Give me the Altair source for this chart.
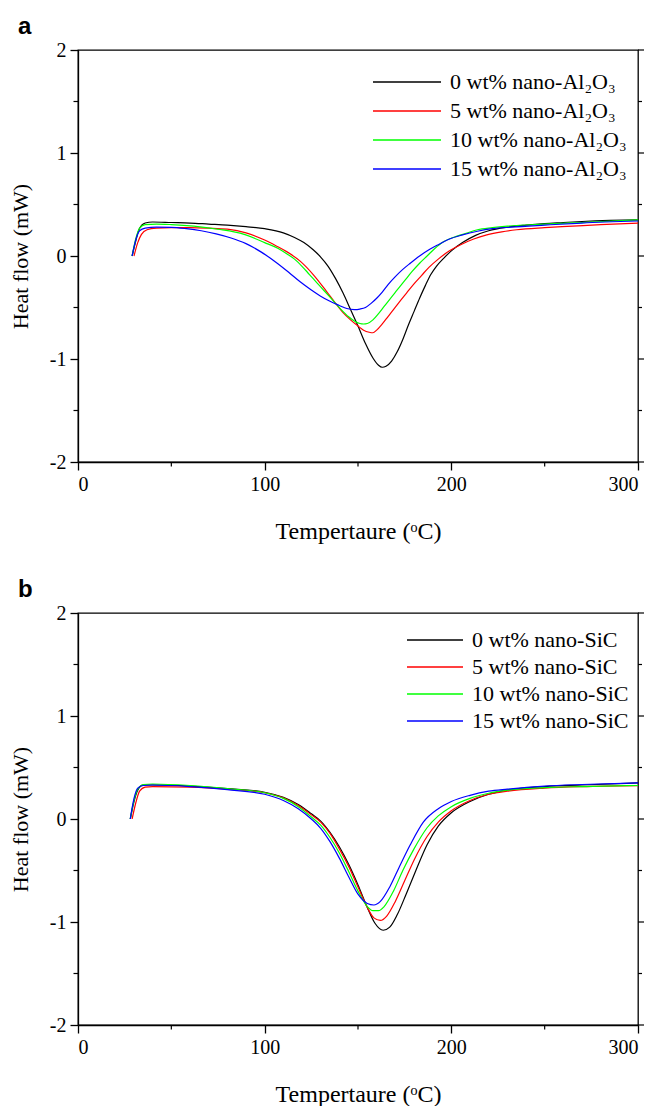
import altair as alt
import pandas as pd

# ---------------- Panel a : nano-Al2O3 ----------------
a_labels = ["0 wt% nano-Al₂O₃", "5 wt% nano-Al₂O₃", "10 wt% nano-Al₂O₃", "15 wt% nano-Al₂O₃"]

a0_T = [29, 31, 33, 36, 40, 50, 60, 70, 80, 90, 100, 110, 116, 121, 126, 130, 134, 138, 142, 146, 150, 154, 158, 161, 163, 165, 168, 171, 174, 177, 180, 183, 186, 189, 192, 196, 200, 206, 213, 220, 230, 240, 250, 260, 270, 285, 300]
a0_H = [0, 0.15, 0.27, 0.32, 0.33, 0.325, 0.32, 0.31, 0.30, 0.285, 0.265, 0.225, 0.18, 0.13, 0.06, -0.01, -0.10, -0.22, -0.36, -0.52, -0.68, -0.85, -0.99, -1.06, -1.08, -1.07, -1.02, -0.93, -0.81, -0.67, -0.54, -0.41, -0.29, -0.18, -0.10, -0.02, 0.05, 0.13, 0.20, 0.245, 0.28, 0.30, 0.315, 0.325, 0.335, 0.345, 0.35]

a5_T = [30, 32, 34, 37, 42, 50, 60, 70, 80, 90, 100, 106, 112, 119, 126, 133, 138, 142, 146, 150, 153, 156, 158, 160, 163, 166, 169, 172, 176, 180, 184, 188, 193, 199, 205, 212, 219, 227, 235, 250, 265, 280, 300]
a5_H = [0, 0.13, 0.21, 0.255, 0.27, 0.275, 0.275, 0.27, 0.26, 0.225, 0.155, 0.10, 0.04, -0.05, -0.18, -0.34, -0.46, -0.55, -0.62, -0.68, -0.72, -0.74, -0.745, -0.72, -0.66, -0.59, -0.52, -0.45, -0.36, -0.27, -0.19, -0.11, -0.03, 0.05, 0.11, 0.165, 0.205, 0.235, 0.255, 0.275, 0.29, 0.305, 0.32]

a10_T = [29, 31, 33, 36, 42, 50, 62, 75, 89, 100, 107, 112, 116, 120, 124, 128, 132, 137, 141, 145, 148, 151, 153, 155, 158, 161, 164, 167, 171, 175, 179, 183, 187, 191, 196, 201, 207, 214, 222, 230, 250, 270, 300]
a10_H = [0, 0.17, 0.27, 0.305, 0.31, 0.305, 0.29, 0.26, 0.21, 0.13, 0.075, 0.02, -0.03, -0.10, -0.18, -0.26, -0.34, -0.44, -0.52, -0.59, -0.63, -0.655, -0.66, -0.655, -0.62, -0.56, -0.49, -0.42, -0.33, -0.24, -0.15, -0.07, 0.0, 0.07, 0.14, 0.18, 0.215, 0.255, 0.275, 0.29, 0.31, 0.325, 0.35]

a15_T = [29, 31, 33, 36, 42, 50, 58, 66, 74, 82, 90, 98, 106, 113, 119, 125, 130, 135, 140, 144, 148, 151, 154, 157, 160, 163, 166, 170, 174, 178, 183, 188, 193, 199, 206, 214, 222, 232, 250, 270, 300]
a15_H = [0, 0.16, 0.245, 0.27, 0.28, 0.278, 0.265, 0.245, 0.215, 0.175, 0.12, 0.04, -0.06, -0.16, -0.25, -0.33, -0.39, -0.44, -0.48, -0.51, -0.52, -0.515, -0.50, -0.46, -0.41, -0.35, -0.28, -0.20, -0.13, -0.07, 0.0, 0.06, 0.11, 0.165, 0.205, 0.24, 0.265, 0.28, 0.30, 0.32, 0.34]

# ---------------- Panel b : nano-SiC ----------------
b_labels = ["0 wt% nano-SiC", "5 wt% nano-SiC", "10 wt% nano-SiC", "15 wt% nano-SiC"]

b0_T = [28, 30, 32, 35, 40, 60, 80, 100, 110, 118, 125, 130, 135, 140, 145, 150, 155, 159, 163.5, 167, 171, 176, 181, 187, 193, 200, 210, 220, 230, 250, 270, 300]
b0_H = [0, 0.17, 0.28, 0.33, 0.33, 0.32, 0.295, 0.26, 0.21, 0.14, 0.05, -0.02, -0.13, -0.27, -0.44, -0.64, -0.86, -1.01, -1.08, -1.05, -0.93, -0.72, -0.50, -0.25, -0.07, 0.06, 0.17, 0.24, 0.28, 0.315, 0.33, 0.35]

b5_T = [29, 31, 33, 36, 40, 60, 80, 100, 110, 118, 125, 130, 135, 140, 145, 150, 155, 158.5, 162, 165.5, 170, 175, 180, 187, 193, 200, 210, 220, 230, 250, 270, 300]
b5_H = [0, 0.16, 0.27, 0.31, 0.315, 0.31, 0.29, 0.255, 0.205, 0.13, 0.04, -0.03, -0.14, -0.29, -0.46, -0.66, -0.86, -0.96, -0.985, -0.94, -0.80, -0.60, -0.40, -0.17, -0.03, 0.08, 0.18, 0.24, 0.27, 0.30, 0.315, 0.325]

b10_T = [28, 30, 32, 35, 40, 60, 80, 100, 110, 118, 125, 130, 135, 140, 145, 150, 155, 158, 161, 164, 169, 174, 180, 187, 193, 200, 210, 220, 230, 250, 270, 300]
b10_H = [0, 0.18, 0.29, 0.335, 0.34, 0.325, 0.295, 0.255, 0.20, 0.12, 0.02, -0.06, -0.18, -0.33, -0.51, -0.70, -0.85, -0.89, -0.89, -0.85, -0.70, -0.50, -0.29, -0.085, 0.03, 0.12, 0.20, 0.25, 0.28, 0.305, 0.315, 0.325]

b15_T = [28, 30, 32, 35, 40, 60, 80, 100, 110, 118, 125, 130, 135, 140, 145, 150, 155, 158.5, 162, 167, 172, 178, 185, 193, 200, 210, 220, 230, 250, 270, 300]
b15_H = [0, 0.20, 0.30, 0.325, 0.33, 0.315, 0.285, 0.24, 0.18, 0.10, 0.0, -0.09, -0.22, -0.38, -0.56, -0.73, -0.82, -0.835, -0.80, -0.66, -0.47, -0.25, -0.03, 0.10, 0.17, 0.23, 0.27, 0.29, 0.32, 0.335, 0.35]

colors = ["#000000", "#ff0000", "#00ff00", "#0000ff"]

x_ticks = [0, 100, 200, 300]
x_minor = [50, 150, 250]
y_ticks = [-2, -1, 0, 1, 2]
y_minor = [-1.5, -0.5, 0.5, 1.5]

W, H = 560, 412
SERIF = "Liberation Serif"


def long_df(labels, Ts, Hs):
    rows = []
    for lab, T, Hv in zip(labels, Ts, Hs):
        for i, (t, h) in enumerate(zip(T, Hv)):
            rows.append({"series": lab, "T": t, "H": h, "idx": i})
    return pd.DataFrame(rows)


def panel(letter, labels, Ts, Hs, leg_x1, leg_x2, leg_tx, leg_y0, leg_dy):
    df = long_df(labels, Ts, Hs)
    xaxis = alt.Axis(values=x_ticks, title="Tempertaure (ᵒC)", labelExpr="'' + datum.value")
    yaxis = alt.Axis(values=y_ticks, title="Heat flow (mW)", labelExpr="'' + datum.value")
    xs = alt.Scale(domain=[0, 300], nice=False, zero=False)
    ys = alt.Scale(domain=[-2, 2], nice=False, zero=False)
    X = alt.X("T:Q", scale=xs, axis=xaxis)
    Y = alt.Y("H:Q", scale=ys, axis=yaxis)
    C = alt.Color("series:N", scale=alt.Scale(domain=labels, range=colors), legend=None)

    lines = alt.Chart(df).mark_line(strokeWidth=1.2, interpolate="monotone").encode(
        x=X, y=Y, color=C, order="idx:Q",
    )
    xm = pd.DataFrame({"T": x_minor})
    ym = pd.DataFrame({"H": y_minor})
    yM = pd.DataFrame({"H": y_ticks})
    ticks = [
        alt.Chart(xm).mark_rule(color="black", strokeWidth=1.2).encode(
            x=X, y=alt.value(H), y2=alt.value(H + 4.5)),
        alt.Chart(ym).mark_rule(color="black", strokeWidth=1.2).encode(
            y=Y, x=alt.value(0), x2=alt.value(-4.5)),
        alt.Chart(yM).mark_rule(color="black", strokeWidth=1.2).encode(
            y=Y, x=alt.value(W), x2=alt.value(W + 6)),
        alt.Chart(ym).mark_rule(color="black", strokeWidth=1.2).encode(
            y=Y, x=alt.value(W), x2=alt.value(W + 4)),
    ]
    data_layer = alt.layer(lines, *ticks)

    # legend (own pixel-row scale)
    leg = pd.DataFrame({"series": labels, "row": list(range(len(labels)))})
    LY = alt.Y("row:Q", scale=alt.Scale(domain=[0, 3], range=[leg_y0, leg_y0 + 3 * leg_dy]), axis=None)
    leg_rule = alt.Chart(leg).mark_rule(strokeWidth=1.3).encode(
        x=alt.value(leg_x1), x2=alt.value(leg_x2), y=LY, color=C)
    leg_text = alt.Chart(leg).mark_text(
        align="left", baseline="middle", font=SERIF, fontSize=22, color="black").encode(
        x=alt.value(leg_tx), y=LY, text="series:N")
    legend_layer = alt.layer(leg_rule, leg_text)

    return alt.layer(data_layer, legend_layer).resolve_scale(y="independent").properties(
        width=W, height=H,
        title=alt.TitleParams(letter, anchor="start", frame="group", dx=-60, font="Liberation Sans",
                              fontSize=24, fontWeight="bold", color="black", offset=1),
    )


pa = panel("a", a_labels, [a0_T, a5_T, a10_T, a15_T], [a0_H, a5_H, a10_H, a15_H],
           295, 363, 372, 32, 29)
pb = panel("b", b_labels, [b0_T, b5_T, b10_T, b15_T], [b0_H, b5_H, b10_H, b15_H],
           329, 385, 394, 27, 27)

chart = alt.vconcat(pa, pb, spacing=33).properties(
    padding={"left": 0, "top": 6, "right": 0, "bottom": 0}
).configure_view(stroke="black", strokeWidth=1.3).configure_axis(
    grid=False, domainColor="black", domainWidth=1.3, tickColor="black", tickWidth=1.3,
    tickSize=8, labelFont=SERIF, labelFontSize=20, labelColor="black", labelPadding=4,
    titleFont=SERIF, titleFontSize=22, titleFontWeight="normal", titleColor="black",
).configure_axisX(titlePadding=25, titleFontSize=24).configure_axisY(titlePadding=17)

chart.save("out.html", embed_options={"renderer": "svg", "actions": False})
